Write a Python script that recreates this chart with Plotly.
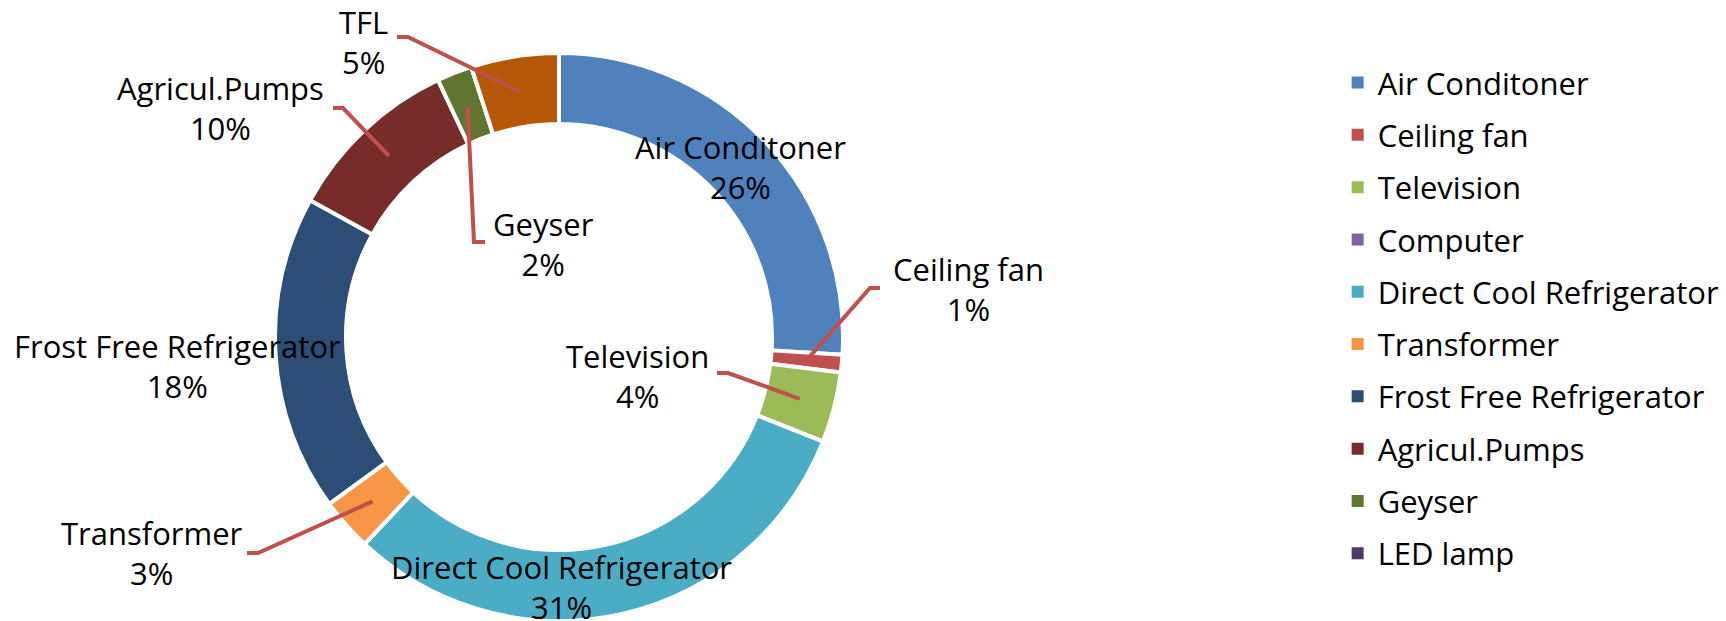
import math
import plotly.graph_objects as go

# slices, clockwise from 12 o'clock
categories = [
    "Air Conditoner", "Ceiling fan", "Television", "Computer",
    "Direct Cool Refrigerator", "Transformer", "Frost Free Refrigerator",
    "Agricul.Pumps", "Geyser", "LED lamp", "TFL",
]
shares = [26, 1, 4, 0, 31, 3, 18, 10, 2, 0, 5]
colors = [
    "#4F81BD", "#C0504D", "#9BBB59", "#8064A2", "#4BACC6", "#F79646",
    "#2C4D75", "#772C2A", "#5F7530", "#4D3B62", "#B65708",
]
# the legend of the original only shows the first ten entries
legend_items = categories[:10]

W, H = 1726, 621
FONT = "Open Sans"
FSIZE = 31
CX, CY, R_OUT, HOLE = 559, 337, 284, 0.75

# label placement (pixels): text centre, and elbow points of the leader line
label_pos = {
    "Air Conditoner": dict(xy=(740, 167)),
    "Ceiling fan": dict(xy=(968, 289), line=[(880, 288), (870, 288)]),
    "Television": dict(xy=(637, 376), line=[(717, 373), (728, 373)]),
    "Direct Cool Refrigerator": dict(xy=(561, 587)),
    "Transformer": dict(xy=(152, 553), line=[(247, 553), (258, 553)]),
    "Frost Free Refrigerator": dict(xy=(177, 366)),
    "Agricul.Pumps": dict(xy=(220, 108), line=[(333, 108), (343, 108)]),
    "Geyser": dict(xy=(543, 244), line=[(485, 242), (474, 242)]),
    "TFL": dict(xy=(363, 42), line=[(397, 37), (408, 37)]),
}


def px(x, y):
    return x / W, 1 - y / H


fig = go.Figure()

fig.add_trace(
    go.Pie(
        labels=categories,
        values=shares,
        hole=HOLE,
        sort=False,
        direction="clockwise",
        rotation=0,
        textinfo="none",
        marker=dict(colors=colors, line=dict(color="white", width=4)),
        domain=dict(x=[(CX - R_OUT) / W, (CX + R_OUT) / W],
                    y=[max(0, 1 - (CY + R_OUT) / H), 1 - (CY - R_OUT) / H]),
        showlegend=False,
    )
)

for name, col in zip(legend_items, colors):
    fig.add_trace(
        go.Scatter(
            x=[None], y=[None], mode="markers", name=name, legendgroup=name,
            marker=dict(symbol="square", size=11, color=col),
        )
    )

total = sum(shares)
cum = 0
shapes, annotations = [], []
for name, v in zip(categories, shares):
    mid = (cum + v / 2) / total * 2 * math.pi
    cum += v
    if name not in label_pos:
        continue
    pos = label_pos[name]
    tx, ty = px(*pos["xy"])
    annotations.append(
        dict(
            x=tx, y=ty, xref="paper", yref="paper", showarrow=False,
            text=f"{name}<br>{round(v / total * 100)}%",
            font=dict(family=FONT, size=FSIZE, color="black"),
            xanchor="center", yanchor="middle",
        )
    )
    if "line" in pos:
        r_mid = R_OUT * (1 + HOLE) / 2
        ax = CX + r_mid * math.sin(mid)
        ay = CY - r_mid * math.cos(mid)
        pts = pos["line"] + [(ax, ay)]
        path = "M " + " L ".join(f"{px(x, y)[0]},{px(x, y)[1]}" for x, y in pts)
        shapes.append(
            dict(type="path", path=path, xref="paper", yref="paper",
                 line=dict(color="#C0504D", width=4))
        )

fig.update_layout(
    width=W,
    height=H,
    margin=dict(l=0, r=0, t=0, b=0),
    paper_bgcolor="white",
    plot_bgcolor="white",
    xaxis=dict(visible=False),
    yaxis=dict(visible=False),
    shapes=shapes,
    annotations=annotations,
    legend=dict(
        x=0.775, y=0.91, xanchor="left", yanchor="top",
        font=dict(family=FONT, size=FSIZE, color="black"),
        tracegroupgap=9,
        itemsizing="constant",
    ),
)

fig.write_html(
    "out.html",
    config={"displayModeBar": False},
    post_script="document.body.style.margin='0';",
)
